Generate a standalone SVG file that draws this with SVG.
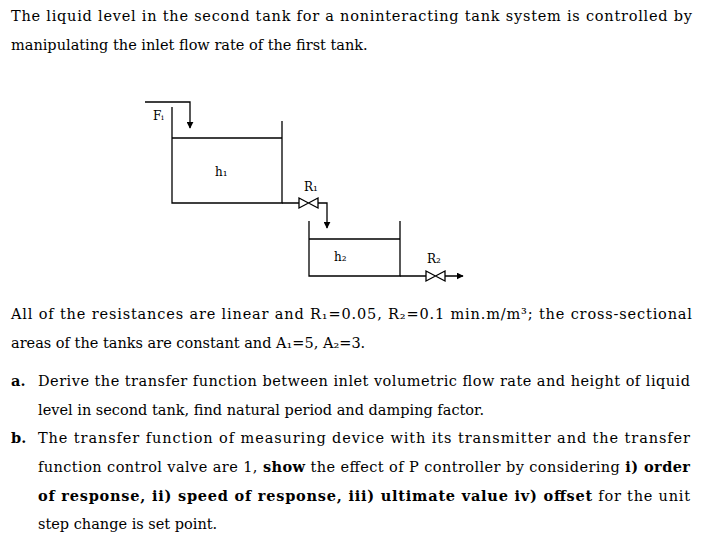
<svg xmlns="http://www.w3.org/2000/svg" width="727" height="544" viewBox="0 0 727 544">
<style>
text{font-family:"DejaVu Serif","Liberation Serif",serif;font-size:14.5px;fill:#000}
.b{font-weight:bold}
.l{font-size:12px}
.s{fill:none;stroke:#000;stroke-width:1.3}
</style>
<defs><marker id="ah" viewBox="0 0 10 10" refX="9" refY="5" markerWidth="7" markerHeight="7" orient="auto" markerUnits="userSpaceOnUse"><path d="M0,0L10,5L0,10z"/></marker></defs>
<rect width="727" height="544" fill="#fff"/>
<text x="11" y="21" textLength="681" lengthAdjust="spacing">The liquid level in the second tank for a noninteracting tank system is controlled by</text>
<text x="11" y="50">manipulating the inlet flow rate of the first tank.</text>
<g id="tank1"><path class="s" d="M172,107V203H282V121M172,138H282"/><text class="l" x="215" y="176">h₁</text></g>
<g id="tank2"><path class="s" d="M309,221V276H400V221M309,239H400"/><text class="l" x="334" y="261">h₂</text></g>
<g id="valve1"><path class="s" d="M299,198L318,208V198L299,208Z"/><text class="l" x="304" y="191">R₁</text></g>
<g id="valve2"><path class="s" d="M426,271L445,281V271L426,281Z"/><text class="l" x="427" y="263">R₂</text></g>
<text class="l" x="153" y="120">Fᵢ</text>
<g id="connectors" class="s">
<path class="s" d="M145,102H190V128" marker-end="url(#ah)"/>
<path class="s" d="M282,203H299M318,203H327V228" marker-end="url(#ah)"/>
<path class="s" d="M400,276H426M445,276H463" marker-end="url(#ah)"/>
</g>
<text x="11" y="319" textLength="681" lengthAdjust="spacing">All of the resistances are linear and R₁=0.05, R₂=0.1 min.m/m³; the cross-sectional</text>
<text x="11" y="348">areas of the tanks are constant and A₁=5, A₂=3.</text>
<text class="b" x="11" y="386">a.</text>
<text x="38" y="386" textLength="652" lengthAdjust="spacing">Derive the transfer function between inlet volumetric flow rate and height of liquid</text>
<text x="38" y="415">level in second tank, find natural period and damping factor.</text>
<text class="b" x="11" y="443">b.</text>
<text x="38" y="443" textLength="652" lengthAdjust="spacing">The transfer function of measuring device with its transmitter and the transfer</text>
<text x="38" y="472" textLength="652" lengthAdjust="spacing">function control valve are 1, <tspan class="b">show</tspan> the effect of P controller by considering <tspan class="b">i) order</tspan></text>
<text x="38" y="501" textLength="652" lengthAdjust="spacing"><tspan class="b">of response, ii) speed of response, iii) ultimate value iv) offset</tspan>   for the unit</text>
<text x="38" y="529">step change is set point.</text>
</svg>
